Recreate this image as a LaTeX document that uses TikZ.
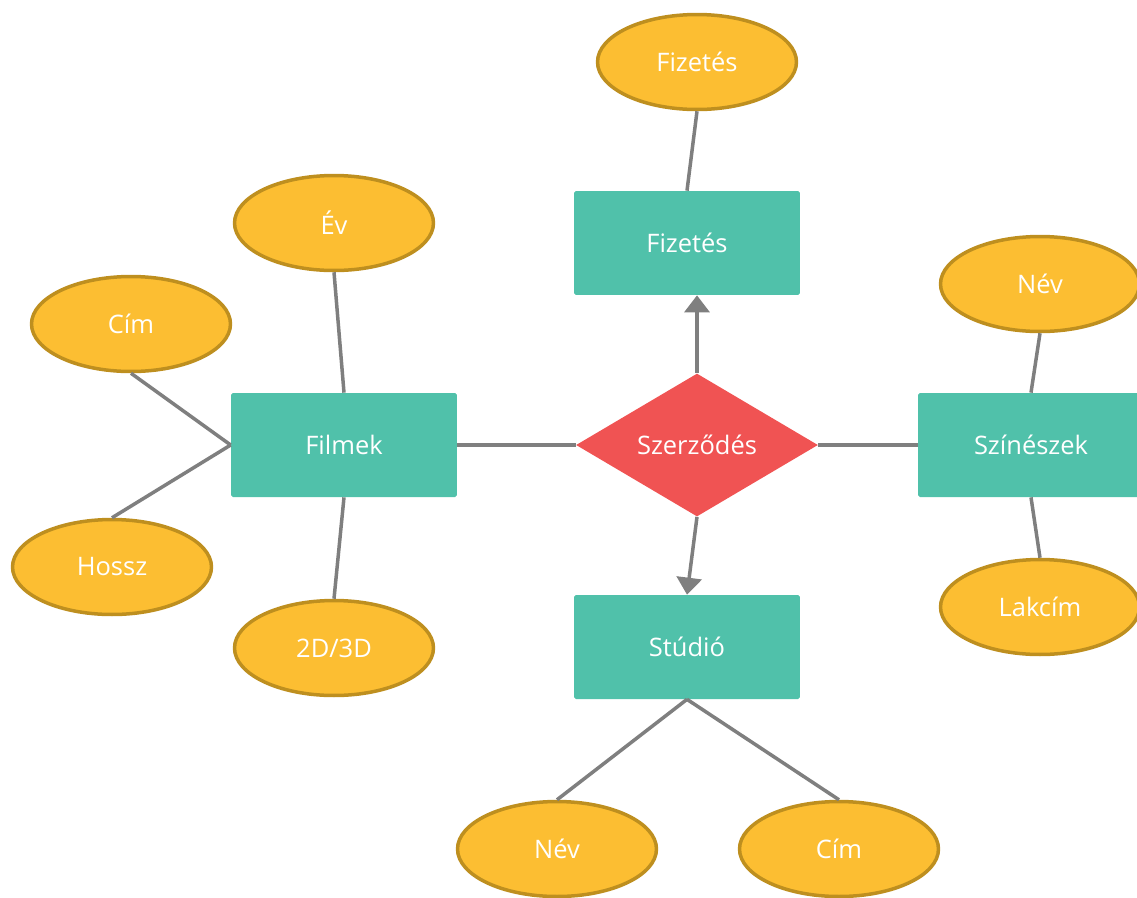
\documentclass[tikz,border=0pt]{standalone}
\usepackage{fontspec}
\setmainfont{Open Sans}
\usetikzlibrary{shapes.geometric,arrows.meta,positioning}
\definecolor{Ink}{HTML}{7F7F7F}
\definecolor{Mint}{HTML}{50C1AA}
\definecolor{Amber}{HTML}{FCBE32}
\definecolor{Ochre}{HTML}{BE8F1F}
\definecolor{Rose}{HTML}{F05353}

\begin{document}
\begin{tikzpicture}[x=0.02cm,y=-0.02cm,
  every node/.style={font=\fontsize{14.5}{16}\selectfont,text=white,align=center},
  entity/.style={rectangle,fill=Mint,rounded corners=1pt,minimum width=4.52cm,minimum height=2.08cm},
  attr/.style={ellipse,draw=Ochre,fill=Amber,line width=0.07cm,minimum width=3.98cm,minimum height=1.9cm},
  rel/.style={diamond,fill=Rose,inner sep=0pt,minimum width=4.84cm,minimum height=2.86cm},
  link/.style={draw=Ink,line width=0.07cm}]
  \useasboundingbox (0,0) rectangle (1137,897);
  % entities and relation
  \node[entity] (fiz) at (687,243) {Fizetés};
  \node[entity] (film) at (344,445) {Filmek};
  \node[entity] (szin) at (1031,445) {Színészek};
  \node[entity] (stud) at (687,647) {Stúdió};
  \node[rel] (szerz) at (697,445) {Szerződés};
  % attributes
  \foreach \name/\x/\y/\txt in {fizA/697/62/Fizetés,ev/334/223/Év,cimF/131/324/Cím,hossz/112/567/Hossz,dim/334/648/{2D/3D},
      nevSz/1040/284/Név,lakcim/1040/607/Lakcím,nevSt/557/849/Név,cimSt/839/849/Cím}{
    \node[attr] (\name) at (\x,\y) {\txt};
  }
  % connectors
  \draw[link] (fizA.south) -- (fiz.north);
  \draw[link] (ev.south) -- (film.north);
  \draw[link] (cimF.south) -- (film.west);
  \draw[link] (hossz.north) -- (film.west);
  \draw[link] (dim.north) -- (film.south);
  \draw[link] (film.east) -- (szerz.west);
  \draw[link] (szerz.east) -- (szin.west);
  \draw[link] (nevSz.south) -- (szin.north);
  \draw[link] (szin.south) -- (lakcim.north);
  \draw[link] (stud.south) -- (nevSt.north);
  \draw[link] (stud.south) -- (cimSt.north);
  \draw[link,-{Triangle[width=0.5cm,length=0.34cm]}] (szerz.north) -- (szerz.north |- fiz.south);
  \draw[link,-{Triangle[width=0.5cm,length=0.34cm]}] (szerz.south) -- (stud.north);
\end{tikzpicture}
\end{document}
